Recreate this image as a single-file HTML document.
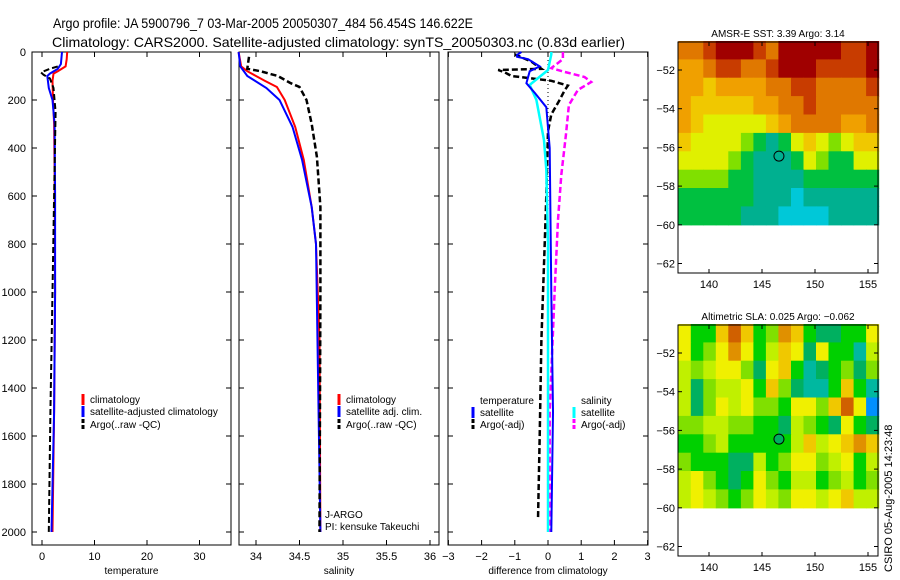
<!DOCTYPE html>
<html><head><meta charset="utf-8"><style>
body{margin:0;background:#fff}
svg{display:block;font-family:"Liberation Sans",sans-serif}
</style></head><body>
<svg id="c" width="900" height="580"></svg>
<script>
// ---- data ----
const tClimD=[0,30,60,80,90,120,200,300,500,1000,1500,2000];
const tClimV=[4.8,4.7,4.5,3.0,2.2,2.0,2.1,2.3,2.4,2.5,2.3,2.0];
const tSatD=[0,50,70,90,100,150,200,300,600,1000,1500,2000];
const tSatV=[3.8,3.6,3.0,1.5,1.0,1.3,2.0,2.4,2.5,2.5,2.3,1.8];
const tArgD=[60,70,85,95,110,150,250,600,1000,1500,2000];
const tArgV=[3.0,1.5,-0.2,0.3,1.5,2.2,2.6,2.3,2.0,1.6,1.3];
const sClimD=[0,60,80,100,120,146,200,312,450,646,800,1200,2000];
const sClimV=[33.8,33.83,33.9,34.0,34.1,34.24,34.33,34.45,34.55,34.64,34.69,34.73,34.74];
const sSatD=[0,60,100,150,200,312,450,646,800,2000];
const sSatV=[33.8,33.82,33.9,34.12,34.27,34.42,34.53,34.64,34.69,34.74];
const sArgD=[20,70,80,100,130,146,200,300,437,646,1000,2000];
const sArgV=[33.92,33.9,34.05,34.25,34.4,34.5,34.58,34.64,34.7,34.74,34.74,34.73];
const dTSatD=[0,12,20,30,60,80,130,170,230,400,1000,1500,2000];
const dTSatV=[-0.8,-0.93,-0.93,-0.6,-0.25,-0.55,-0.65,-0.4,-0.05,0.05,0.1,0.15,0.1];
const dSSatD=[0,10,75,137,200,367,490,800,1500,2000];
const dSSatV=[0.1,0.1,0.0,-0.55,-0.35,-0.12,-0.05,0.0,0.0,0.0];
const dTArgD=[10,40,70,75,85,100,110,120,140,160,200,260,330,600,800,1200,1600,1950];
const dTArgV=[-1.0,-0.5,-0.2,-1.5,-1.3,-1.1,-0.5,0.1,0.6,0.5,0.35,0.1,0.0,-0.05,-0.1,-0.2,-0.25,-0.3];
const dSArgD=[0,30,67,83,104,125,158,221,346,512,700,1000,1500,2000];
const dSArgV=[0.45,0.45,0.1,0.5,1.1,1.3,0.9,0.63,0.54,0.4,0.3,0.2,0.05,0.05];
const depthTicks=[0,200,400,600,800,1000,1200,1400,1600,1800,2000];
const tempTicks=[0,10,20,30];
const salTicks=[34,34.5,35,35.5,36];
const salTickLabels=["34","34.5","35","35.5","36"];
const diffTicks=[-3,-2,-1,0,1,2,3];
const lonTicks=[140,145,150,155];
const latTicks=[-52,-54,-56,-58,-60,-62];
const sstGrid=[
[7,7,8,9,9,9,8,7,9,9,9,9,9,8,8,9],
[6,6,7,8,8,7,7,8,9,9,9,8,8,8,8,9],
[6,6,5,6,6,6,6,7,7,8,8,7,7,7,7,8],
[6,5,5,5,5,5,6,6,7,7,8,7,7,7,7,7],
[6,5,4,4,4,4,4,5,6,7,7,7,7,6,6,7],
[5,4,4,4,4,3,2,1,2,4,5,4,3,4,5,5],
[4,4,4,4,3,2,1,1,1,2,4,3,2,2,4,4],
[3,3,3,3,2,2,1,1,1,1,2,2,2,2,2,2],
[2,2,2,2,2,2,1,1,1,0,1,1,1,1,1,1],
[2,2,2,2,2,1,1,1,0,0,0,0,1,1,1,1]];
const slaGrid=[
[6,3,3,7,9,7,3,4,8,7,3,2,2,3,3,6],
[6,3,4,6,8,6,3,5,7,6,2,6,3,3,1,5],
[5,4,5,6,6,4,2,6,7,3,1,2,3,4,2,4],
[5,2,4,5,5,6,3,7,4,2,1,1,3,7,3,1],
[5,2,4,6,5,6,4,4,3,6,6,4,7,9,6,0],
[4,4,5,5,4,4,3,3,2,5,4,3,2,6,3,2],
[3,3,4,5,3,3,3,3,3,5,7,5,6,7,8,7],
[4,3,3,3,2,2,5,3,4,6,6,4,5,6,3,5],
[5,6,4,3,2,3,6,4,3,5,5,3,4,5,3,4],
[5,6,5,4,3,4,6,5,4,6,6,5,6,7,5,5]];
const sstColors=["#00c8d8","#00b090","#00c040","#80e000","#e0f000","#f0c800","#f0a000","#e07800","#c83c00","#a00000"];
const slaColors=["#0090ff","#00b8a0","#00b060","#00d000","#80e000","#c0f000","#f0f000","#f0c800","#e09000","#d06000"];

const NS="http://www.w3.org/2000/svg";
const svg=document.getElementById('c');
function el(t,a,p){const e=document.createElementNS(NS,t);for(const k in a)e.setAttribute(k,a[k]);(p||svg).appendChild(e);return e;}
function txt(x,y,s,a,p){const e=el('text',Object.assign({x:x,y:y,'font-size':11,fill:'#000'},a||{}),p);e.textContent=s;return e;}
const TOP=52,BOT=545;
const yD=d=>TOP+d*0.24;

function panel(name,x0,x1,xs,ticks,labels,xlabel,showY){
  const g=el('g',{});
  
  
  el('rect',{x:x0,y:TOP,width:x1-x0,height:BOT-TOP,fill:'none',stroke:'#000','stroke-width':1},g);
  ticks.forEach((t,i)=>{const x=xs(t);
    el('line',{x1:x,x2:x,y1:BOT,y2:BOT-5,stroke:'#000'},g);
    el('line',{x1:x,x2:x,y1:TOP,y2:TOP+5,stroke:'#000'},g);
    const l=txt(x,BOT+15,labels[i],{'text-anchor':'middle'},g);
    
    
  });
  depthTicks.forEach(d=>{const y=yD(d);
    el('line',{x1:x0,x2:x0+5,y1:y,y2:y,stroke:'#000'},g);
    el('line',{x1:x1,x2:x1-5,y1:y,y2:y,stroke:'#000'},g);
    if(showY){const l=txt(x0-6,y+4,String(d),{'text-anchor':'end'},g);
      
      }
  });
  const xl=txt((x0+x1)/2,BOT+29,xlabel,{'text-anchor':'middle','font-size':10},g);
  
  
  return g;
}
function line(D,V,xs,color,dash,w,name){
  const pts=D.map((d,i)=>xs(V[i]).toFixed(1)+','+yD(d).toFixed(1)).join(' ');
  const p=el('polyline',{points:pts,fill:'none',stroke:color,'stroke-width':w||2,'stroke-dasharray':dash||'none'});
  
  
}
function legend(x,y,color,dash,label,name){
  const g=el('g',{});
  
  
  el('line',{x1:x,x2:x,y1:y-9,y2:y+2,stroke:color,'stroke-width':3,'stroke-dasharray':dash||'none'},g);
  txt(x+7,y,label,{'font-size':10},g);
}

// Titles
const t1=txt(53,28,"Argo profile: JA 5900796_7 03-Mar-2005 20050307_484 56.454S 146.622E",{'font-size':14,textLength:420,lengthAdjust:'spacingAndGlyphs'});

const t2=txt(52,47,"Climatology: CARS2000. Satellite-adjusted climatology: synTS_20050303.nc (0.83d earlier)",{'font-size':14,textLength:573,lengthAdjust:'spacingAndGlyphs'});


// Panel 1 temperature
const xT=v=>42+v*5.25;
panel('temperature-panel',32,231,xT,tempTicks,tempTicks.map(String),'temperature',true);
line(tClimD,tClimV,xT,'#f00',null,2,'temp-climatology-line');
line(tSatD,tSatV,xT,'#00f',null,2,'temp-satellite-line');
line(tArgD,tArgV,xT,'#000','6,3',2,'temp-argo-line');
legend(83,403,'#f00',null,'climatology','legend-climatology');
legend(83,415,'#00f',null,'satellite-adjusted climatology','legend-satellite-adjusted');
legend(83,428,'#000','4,2','Argo(..raw -QC)','legend-argo');

// Panel 2 salinity
const xS=v=>256+(v-34)*87;
panel('salinity-panel',239,439,xS,salTicks,salTickLabels,'salinity',false);
line(sClimD,sClimV,xS,'#f00',null,2,'sal-climatology-line');
line(sSatD,sSatV,xS,'#00f',null,2,'sal-satellite-line');
line(sArgD,sArgV,xS,'#000','6,3',2.5,'sal-argo-line');
legend(339,403,'#f00',null,'climatology','legend-sal-climatology');
legend(339,415,'#00f',null,'satellite adj. clim.','legend-sal-satellite');
legend(339,428,'#000','4,2','Argo(..raw -QC)','legend-sal-argo');
const j1=txt(325,518,"J-ARGO",{'font-size':10});
const j2=txt(325,530,"PI: kensuke Takeuchi",{'font-size':10});

// Panel 3 difference
const xDf=v=>548+v*33.2;
panel('difference-panel',448,648,xDf,diffTicks,diffTicks.map(v=>v<0?'\u2212'+(-v):String(v)),'difference from climatology',false);
el('line',{x1:xDf(0),x2:xDf(0),y1:TOP,y2:yD(1400),stroke:'#000','stroke-dasharray':'1,3'});
line(dTArgD,dTArgV,xDf,'#000','6,3',2.5,'diff-temp-argo-line');
line(dSArgD,dSArgV,xDf,'#f0f','6,3',2.5,'diff-sal-argo-line');
line(dSSatD,dSSatV,xDf,'#0ff',null,2.5,'diff-sal-satellite-line');
line(dTSatD,dTSatV,xDf,'#00f',null,2,'diff-temp-satellite-line');
const lt=txt(480,404,"temperature",{'font-size':10});
legend(473,416,'#00f',null,'satellite','legend-temp-satellite');
legend(473,428,'#000','4,2','Argo(-adj)','legend-temp-argo');
const ls=txt(581,404,"salinity",{'font-size':10});
legend(574,416,'#0ff',null,'satellite','legend-sal-satellite-diff');
legend(574,428,'#f0f','4,2','Argo(-adj)','legend-sal-argo-diff');

// Maps
function map(name,top,title,grid,colors,dotFill){
  const g=el('g',{});
  
  
  const L=678,R=878,B=top+231;
  const xL=lon=>709+(lon-140)*10.6;
  const yL=lat=>top+28+(-52-lat)*19.35;
  const lon0=137.1,lon1=156,lat0=-50.5,lat1=-60;
  const nr=grid.length,nc=grid[0].length;
  const cw=(lon1-lon0)/nc,rh=(lat0-lat1)/nr;
  grid.forEach((row,r)=>row.forEach((v,c)=>{
    const x=xL(lon0+c*cw),y=yL(lat0-r*rh);
    const cell=el('rect',{x:x.toFixed(1),y:y.toFixed(1),width:(xL(lon0+(c+1)*cw)-x+0.6).toFixed(1),height:(yL(lat0-(r+1)*rh)-y+0.6).toFixed(1),fill:colors[v]},g);
    
    
  }));
  el('rect',{x:L,y:top,width:R-L,height:B-top,fill:'none',stroke:'#000'},g);
  lonTicks.forEach(l=>{const x=xL(l);
    el('line',{x1:x,x2:x,y1:B,y2:B-4,stroke:'#000'},g);
    el('line',{x1:x,x2:x,y1:top,y2:top+4,stroke:'#000'},g);
    txt(x,B+15,String(l),{'text-anchor':'middle'},g);});
  latTicks.forEach(l=>{const y=yL(l);
    el('line',{x1:L,x2:L+4,y1:y,y2:y,stroke:'#000'},g);
    el('line',{x1:R,x2:R-4,y1:y,y2:y,stroke:'#000'},g);
    txt(L-3,y+4,'\u2212'+(-l),{'text-anchor':'end'},g);});
  const c=el('circle',{cx:xL(146.6),cy:yL(-56.45),r:5,fill:dotFill,stroke:'#000'},g);
  
  
  const t=txt((L+R)/2,top-5,title,{'text-anchor':'middle','font-size':10},g);
  
  
}
map('sst-map',42,'AMSR-E SST: 3.39 Argo: 3.14',sstGrid,sstColors,'none');
map('sla-map',325,'Altimetric SLA: 0.025 Argo: \u22120.062',slaGrid,slaColors,'#00b060');

const cs=txt(0,0,"CSIRO 05-Aug-2005 14:23:48",{'font-size':11,transform:'translate(892,572) rotate(-90)'});


</script>
</body></html>
